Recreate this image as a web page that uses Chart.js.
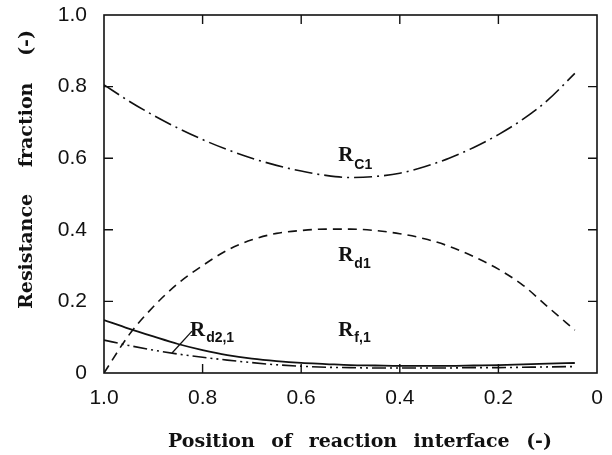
<!DOCTYPE html>
<html>
<head>
<meta charset="utf-8">
<script src="https://cdn.jsdelivr.net/npm/chart.js@4.4.1/dist/chart.umd.min.js"></script>
<style>
  html, body { margin: 0; padding: 0; background: #fff; }
  #wrap { width: 612px; height: 455px; }
</style>
</head>
<body>
<div id="wrap"><canvas id="resChart" width="612" height="455"></canvas></div>
<script>
// position of reaction interface (1.0 = surface, 0 = centre)
const positions = [1.0, 0.95, 0.9, 0.85, 0.8, 0.75, 0.7, 0.65, 0.6, 0.55, 0.5,
                   0.45, 0.4, 0.35, 0.3, 0.25, 0.2, 0.15, 0.1, 0.045];
const rC1  = [0.805, 0.760, 0.720, 0.684, 0.652, 0.624, 0.600, 0.580, 0.564, 0.552, 0.546,
              0.549, 0.558, 0.576, 0.600, 0.630, 0.666, 0.709, 0.762, 0.837];
const rD1  = [0.0, 0.105, 0.185, 0.250, 0.300, 0.343, 0.372, 0.390, 0.398, 0.402, 0.402,
              0.398, 0.389, 0.375, 0.354, 0.325, 0.290, 0.245, 0.185, 0.120];
const rF1  = [0.148, 0.124, 0.102, 0.081, 0.064, 0.050, 0.040, 0.033, 0.028, 0.025, 0.022,
              0.021, 0.020, 0.020, 0.020, 0.021, 0.022, 0.024, 0.026, 0.028];
const rD21 = [0.092, 0.077, 0.064, 0.053, 0.044, 0.036, 0.029, 0.023, 0.019, 0.016, 0.015,
              0.014, 0.014, 0.014, 0.014, 0.015, 0.015, 0.016, 0.017, 0.018];

const xTicks = [1.0, 0.8, 0.6, 0.4, 0.2, 0];
const yTicks = [0, 0.2, 0.4, 0.6, 0.8, 1.0];

const xTitle = ['Position', 'of', 'reaction', 'interface', '(-)'];
const yTitle = ['Resistance', 'fraction', '(-)'];

// curve labels: main letter, subscript, anchor in data units
const curveLabels = [
  { main: 'R', sub: 'C1',   x: 0.525, y: 0.592, drop: 8 },
  { main: 'R', sub: 'd1',   x: 0.525, y: 0.313, drop: 7 },
  { main: 'R', sub: 'f,1',  x: 0.525, y: 0.103, drop: 6 },
  { main: 'R', sub: 'd2,1', x: 0.8256, y: 0.103, drop: 6 }
];
// leader from the R_d2,1 label down to its curve
const leader = [{ x: 0.8215, y: 0.117 }, { x: 0.862, y: 0.056 }];

const toPoints = (vals) => vals.map((v, i) => ({ x: positions[i], y: v }));

const INK = '#111';
const SERIF = '"Liberation Serif", "Times New Roman", serif';
const TITLE_SERIF = '"DejaVu Serif", serif';
const SANS = '"Liberation Sans", Arial, sans-serif';

const lineSet = (label, vals, dash, width) => ({
  label: label,
  data: toPoints(vals),
  borderColor: INK,
  borderWidth: width,
  borderDash: dash,
  pointRadius: 0,
  fill: false,
  cubicInterpolationMode: 'monotone'
});

// frame, inward ticks, titles and curve labels
const decorations = {
  id: 'decorations',
  afterDraw(chart) {
    const ctx = chart.ctx;
    const a = chart.chartArea;
    const xs = chart.scales.x;
    const ys = chart.scales.y;
    const tick = 9;
    ctx.save();
    ctx.strokeStyle = INK;
    ctx.lineWidth = 1.6;
    ctx.setLineDash([]);
    ctx.strokeRect(a.left, a.top, a.right - a.left, a.bottom - a.top);

    ctx.lineWidth = 1.4;
    ctx.beginPath();
    xTicks.slice(1, -1).forEach(v => {
      const px = xs.getPixelForValue(v);
      ctx.moveTo(px, a.bottom); ctx.lineTo(px, a.bottom - tick);
      ctx.moveTo(px, a.top); ctx.lineTo(px, a.top + tick);
    });
    yTicks.slice(1, -1).forEach(v => {
      const py = ys.getPixelForValue(v);
      ctx.moveTo(a.left, py); ctx.lineTo(a.left + tick, py);
      ctx.moveTo(a.right, py); ctx.lineTo(a.right - tick, py);
    });
    ctx.stroke();

    // leader line
    ctx.lineWidth = 1.3;
    ctx.beginPath();
    ctx.moveTo(xs.getPixelForValue(leader[0].x), ys.getPixelForValue(leader[0].y));
    ctx.lineTo(xs.getPixelForValue(leader[1].x), ys.getPixelForValue(leader[1].y));
    ctx.stroke();

    // curve labels
    ctx.fillStyle = INK;
    ctx.textBaseline = 'alphabetic';
    ctx.textAlign = 'left';
    curveLabels.forEach(l => {
      const px = xs.getPixelForValue(l.x);
      const py = ys.getPixelForValue(l.y);
      ctx.font = 'bold 21px ' + SERIF;
      ctx.fillText(l.main, px, py);
      const w = ctx.measureText(l.main).width;
      ctx.font = 'bold 14px ' + SANS;
      ctx.fillText(l.sub, px + w + 1, py + l.drop);
    });

    // axis titles, words spread to fill a given length
    ctx.font = 'bold 19px ' + TITLE_SERIF;
    const drawWords = (words, startX, y, span) => {
      const widths = words.map(wd => ctx.measureText(wd).width);
      const used = widths.reduce((s, v) => s + v, 0);
      const gap = (span - used) / (words.length - 1);
      let cx = startX;
      words.forEach((word, i) => {
        ctx.fillText(word, cx, y);
        cx += widths[i] + gap;
      });
    };
    drawWords(xTitle, 168, 447, 384);

    ctx.save();
    ctx.translate(32, 309);
    ctx.rotate(-Math.PI / 2);
    drawWords(yTitle, 0, 0, 279);
    ctx.restore();

    ctx.restore();
  }
};

new Chart(document.getElementById('resChart'), {
  type: 'line',
  data: {
    datasets: [
      lineSet('Rc1', rC1, [18, 5, 2, 5], 1.6),
      lineSet('Rd1', rD1, [9, 6], 1.6),
      lineSet('Rf,1', rF1, [], 1.8),
      lineSet('Rd2,1', rD21, [14, 4, 2, 4, 2, 4], 1.6)
    ]
  },
  options: {
    responsive: false,
    animation: false,
    layout: { padding: { left: 0, right: 15, top: 15, bottom: 0 } },
    plugins: {
      legend: { display: false },
      tooltip: { enabled: false }
    },
    scales: {
      x: {
        type: 'linear',
        reverse: true,
        min: 0,
        max: 1,
        grid: { display: false, drawTicks: false },
        border: { display: false },
        afterBuildTicks: (scale) => { scale.ticks = xTicks.map(v => ({ value: v })); },
        afterFit: (scale) => {
          scale.height = 82;
          scale.paddingLeft = 0;
          scale.paddingRight = 0;
        },
        ticks: {
          padding: 13,
          color: INK,
          font: { family: SANS, size: 21 },
          callback: (v) => v === 0 ? '0' : v.toFixed(1)
        }
      },
      y: {
        type: 'linear',
        min: 0,
        max: 1,
        grid: { display: false, drawTicks: false },
        border: { display: false },
        afterBuildTicks: (scale) => { scale.ticks = yTicks.map(v => ({ value: v })); },
        afterFit: (scale) => {
          scale.width = 104;
          scale.paddingTop = 0;
          scale.paddingBottom = 0;
        },
        ticks: {
          padding: 17,
          color: INK,
          font: { family: SANS, size: 21 },
          callback: (v) => v === 0 ? '0' : v.toFixed(1)
        }
      }
    }
  },
  plugins: [decorations]
});
</script>
</body>
</html>
